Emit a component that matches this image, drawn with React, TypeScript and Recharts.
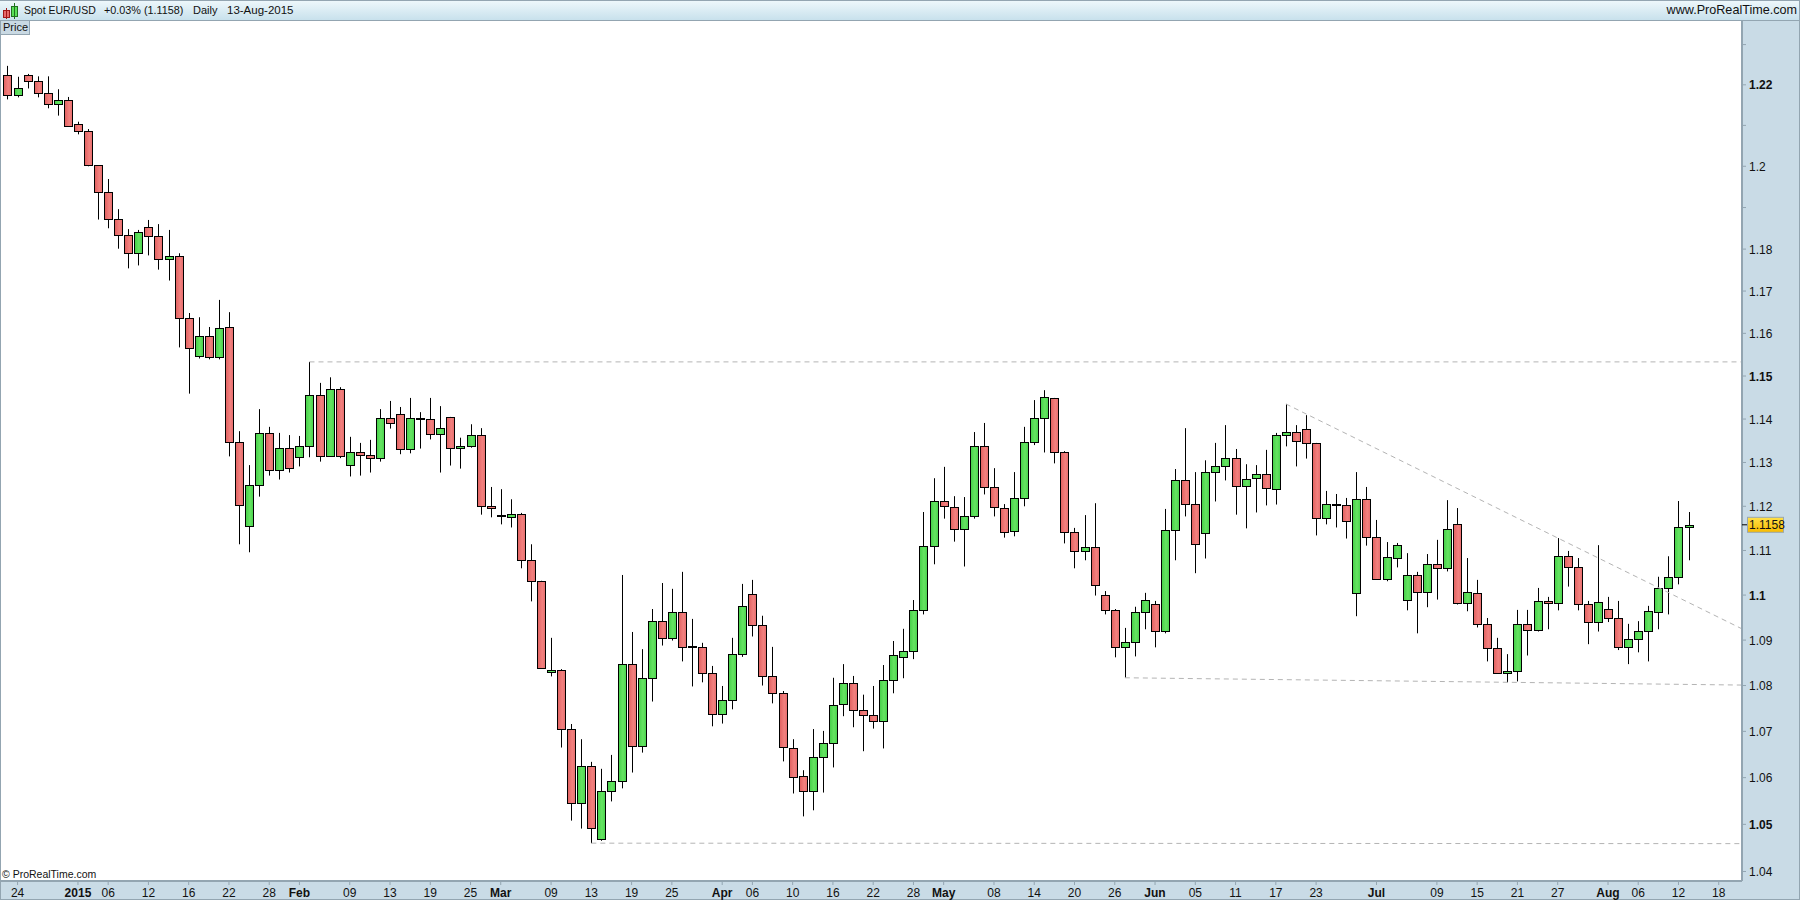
import { Bar, ComposedChart, ReferenceLine, XAxis, YAxis } from "recharts";

const FONT = "'Liberation Sans', Arial, sans-serif";
const PANEL = "#c9dbe6";
const FRAME = "#93a5b1";

// one entry per weekday, first one is 23 Dec 2014
const opens = [
  1.2224, 1.2174, 1.2224, 1.2209, 1.218, 1.2153, 1.2162, 1.2103, 1.2086, 1.2003,
  1.1937, 1.1872, 1.1834, 1.179, 1.1853, 1.1831, 1.1776, 1.1783, 1.1636, 1.1547,
  1.1593, 1.1544, 1.1615, 1.1347, 1.1155, 1.1248, 1.1368, 1.1283, 1.1333, 1.1312,
  1.1338, 1.1456, 1.1316, 1.147, 1.1294, 1.1324, 1.1317, 1.131, 1.1402, 1.1411,
  1.1331, 1.1401, 1.14, 1.1365, 1.1405, 1.1333, 1.1338, 1.1363, 1.12, 1.1177,
  1.1176, 1.1182, 1.1078, 1.1032, 1.083, 1.0834, 1.0705, 1.0546, 1.0625, 1.0469,
  1.0571, 1.0593, 1.0847, 1.0668, 1.0817, 1.0942, 1.0905, 1.0962, 1.0885, 1.0885,
  1.0828, 1.0738, 1.0768, 1.0869, 1.1002, 1.0934, 1.0821, 1.0784, 1.0664, 1.0603,
  1.0571, 1.0645, 1.0675, 1.0758, 1.0805, 1.0747, 1.0736, 1.0722, 1.0812, 1.0863,
  1.0876, 1.0967, 1.111, 1.1212, 1.1198, 1.1148, 1.1178, 1.1338, 1.1244, 1.1196,
  1.1144, 1.1219, 1.1347, 1.1402, 1.1449, 1.1324, 1.1142, 1.1099, 1.1108, 1.1,
  1.0967, 1.0885, 1.0896, 1.0962, 1.098, 1.092, 1.1146, 1.126, 1.1205, 1.1139,
  1.1278, 1.1292, 1.131, 1.1246, 1.1264, 1.1274, 1.1239, 1.1363, 1.137, 1.1377,
  1.1345, 1.1173, 1.1203, 1.1203, 1.1005, 1.1216, 1.113, 1.1036, 1.1083, 1.0989,
  1.1045, 1.1007, 1.107, 1.1061, 1.116, 1.0982, 1.1005, 1.0936, 1.0883, 1.0828,
  1.0832, 1.0936, 1.0922, 1.0987, 1.0982, 1.1087, 1.1063, 1.098, 1.094, 1.0969,
  1.0949, 1.0885, 1.0902, 1.092, 1.0962, 1.1016, 1.1041, 1.1153,
];
const closes = [
  1.2174, 1.2192, 1.2209, 1.218, 1.2153, 1.2162, 1.2098, 1.2086, 1.2003, 1.1937,
  1.1872, 1.1834, 1.179, 1.1841, 1.1831, 1.1776, 1.1783, 1.1636, 1.1565, 1.1593,
  1.1544, 1.1612, 1.1347, 1.1203, 1.1248, 1.1368, 1.1283, 1.1333, 1.1287, 1.1338,
  1.1456, 1.1314, 1.147, 1.1314, 1.1324, 1.1317, 1.131, 1.1402, 1.1391, 1.1331,
  1.1402, 1.1401, 1.1365, 1.1379, 1.1333, 1.1338, 1.1363, 1.12, 1.1195, 1.1177,
  1.1182, 1.1078, 1.1032, 1.084, 1.0834, 1.0705, 1.0546, 1.0625, 1.0492, 1.0571,
  1.0593, 1.0847, 1.0668, 1.0817, 1.0942, 1.0905, 1.0962, 1.0885, 1.0885, 1.0828,
  1.0738, 1.0768, 1.0869, 1.0976, 1.0934, 1.0821, 1.0784, 1.0666, 1.0601, 1.0571,
  1.0645, 1.0675, 1.0758, 1.0805, 1.0747, 1.0736, 1.0722, 1.0812, 1.0867, 1.0876,
  1.0967, 1.111, 1.1212, 1.12, 1.1148, 1.1178, 1.1338, 1.1244, 1.1198, 1.1142,
  1.1219, 1.1347, 1.1402, 1.1451, 1.1324, 1.1142, 1.1099, 1.1108, 1.1023, 1.0967,
  1.0885, 1.0896, 1.0962, 1.0989, 1.092, 1.1146, 1.126, 1.1205, 1.1114, 1.1278,
  1.1292, 1.131, 1.1246, 1.1262, 1.1274, 1.1241, 1.1363, 1.137, 1.1349, 1.1345,
  1.1173, 1.1205, 1.1203, 1.1167, 1.1216, 1.113, 1.1036, 1.1085, 1.1112, 1.1045,
  1.1007, 1.107, 1.1061, 1.1149, 1.0982, 1.1007, 1.0936, 1.0883, 1.0828, 1.0832,
  1.0936, 1.0922, 1.0987, 1.0982, 1.1087, 1.1063, 1.098, 1.094, 1.0985, 1.0949,
  1.0885, 1.0902, 1.092, 1.0965, 1.1016, 1.1041, 1.1153, 1.1158,
];
const highs = [
  1.2247, 1.222, 1.2227, 1.2221, 1.2221, 1.2189, 1.217, 1.2109, 1.2091, 1.2003,
  1.1969, 1.1896, 1.1848, 1.1846, 1.187, 1.186, 1.1846, 1.179, 1.1648, 1.1638,
  1.1615, 1.1679, 1.165, 1.1372, 1.1294, 1.1423, 1.1382, 1.1368, 1.1363, 1.1361,
  1.1533, 1.1484, 1.1497, 1.1474, 1.1359, 1.1345, 1.1352, 1.1423, 1.1442, 1.1428,
  1.1449, 1.1416, 1.1449, 1.143, 1.1405, 1.1357, 1.1388, 1.1379, 1.1244, 1.1239,
  1.1216, 1.1185, 1.1114, 1.1032, 1.0905, 1.0836, 1.0716, 1.0683, 1.0634, 1.0619,
  1.0649, 1.1045, 1.0918, 1.088, 1.0969, 1.1027, 1.1014, 1.1052, 1.0947, 1.0894,
  1.0843, 1.0799, 1.0905, 1.1025, 1.1034, 1.0954, 1.0885, 1.0788, 1.0683, 1.0616,
  1.0705, 1.0701, 1.0817, 1.0847, 1.0821, 1.078, 1.0799, 1.0845, 1.0898, 1.0925,
  1.0989, 1.1187, 1.1264, 1.129, 1.1223, 1.1221, 1.137, 1.1391, 1.1287, 1.1205,
  1.1278, 1.1382, 1.1444, 1.1467, 1.1449, 1.1326, 1.1151, 1.118, 1.1207, 1.1009,
  1.0969, 1.0927, 1.0974, 1.1005, 1.0987, 1.1194, 1.1285, 1.1379, 1.1278, 1.1305,
  1.1345, 1.1386, 1.1331, 1.1296, 1.1294, 1.1329, 1.1368, 1.1435, 1.1386, 1.1409,
  1.1345, 1.1235, 1.1228, 1.1219, 1.1278, 1.1244, 1.1169, 1.1119, 1.1117, 1.1094,
  1.1052, 1.1092, 1.1124, 1.1214, 1.1196, 1.1083, 1.1034, 1.0949, 1.0905, 1.0869,
  1.0967, 1.0967, 1.1016, 1.0996, 1.1128, 1.1099, 1.1083, 1.0987, 1.1112, 1.0996,
  1.0987, 1.0936, 1.0942, 1.0976, 1.1041, 1.1087, 1.1212, 1.1187,
];
const lows = [
  1.2164, 1.2169, 1.2191, 1.2169, 1.2142, 1.2124, 1.2097, 1.2078, 1.2, 1.1871,
  1.185, 1.1801, 1.1754, 1.1761, 1.1785, 1.1751, 1.1725, 1.1567, 1.1459, 1.1541,
  1.1539, 1.1539, 1.1314, 1.1114, 1.1096, 1.1222, 1.127, 1.1261, 1.1277, 1.1291,
  1.1312, 1.1302, 1.1313, 1.131, 1.1268, 1.127, 1.1277, 1.1302, 1.1378, 1.1319,
  1.1321, 1.1332, 1.1353, 1.1277, 1.1293, 1.1286, 1.1334, 1.1181, 1.1175, 1.1159,
  1.1152, 1.106, 1.0986, 1.0838, 1.082, 1.0665, 1.0508, 1.0491, 1.046, 1.0465,
  1.0549, 1.0577, 1.0611, 1.0654, 1.0765, 1.0888, 1.0899, 1.0853, 1.0798, 1.0807,
  1.0711, 1.0717, 1.0748, 1.0863, 1.0908, 1.08, 1.0761, 1.0635, 1.0566, 1.0517,
  1.053, 1.0568, 1.0622, 1.0733, 1.0709, 1.0657, 1.0706, 1.0663, 1.0783, 1.0816,
  1.0858, 1.0957, 1.1069, 1.1172, 1.112, 1.1064, 1.1172, 1.1227, 1.1177, 1.1129,
  1.1132, 1.12, 1.134, 1.1323, 1.1298, 1.1116, 1.106, 1.1078, 1.0999, 1.0957,
  1.0862, 1.0817, 1.0864, 1.0924, 1.0884, 1.0915, 1.1078, 1.1177, 1.1049, 1.1082,
  1.1211, 1.1259, 1.1181, 1.115, 1.1186, 1.1202, 1.1204, 1.1337, 1.1291, 1.1309,
  1.1134, 1.1159, 1.1152, 1.1127, 1.0953, 1.1111, 1.1034, 1.1031, 1.1062, 1.0966,
  1.0915, 1.0973, 1.099, 1.1053, 1.0979, 1.0964, 1.0928, 1.0853, 1.0828, 1.0807,
  1.0809, 1.0866, 1.0919, 1.0924, 1.0966, 1.1019, 1.0966, 1.0891, 1.0919, 1.094,
  1.0878, 1.0847, 1.0873, 1.0853, 1.0924, 1.0957, 1.1024, 1.1078,
];

const dateTicks = [
  1, 7, 10, 14, 18, 22, 26, 29, 34, 38, 42, 46, 49, 54, 58, 62, 66, 71, 74, 78, 82, 86, 90,
  93, 98, 102, 106, 110, 114, 118, 122, 126, 130, 136, 142, 146, 150, 154, 159, 162, 166, 170,
];
const dateLabels = [
  "24", "2015", "06", "12", "16", "22", "28", "Feb", "09", "13", "19", "25", "Mar", "09", "13",
  "19", "25", "Apr", "06", "10", "16", "22", "28", "May", "08", "14", "20", "26", "Jun", "05",
  "11", "17", "23", "Jul", "09", "15", "21", "27", "Aug", "06", "12", "18",
];
const boldDateLabels = ["2015", "Feb", "Mar", "Apr", "May", "Jun", "Jul", "Aug"];

const lastPrice = 1.1158;
const priceTicks = [
  1.04, 1.05, 1.06, 1.07, 1.08, 1.09, 1.1, 1.11, 1.12, 1.13, 1.14, 1.15, 1.16, 1.17, 1.18, 1.19,
  1.2, 1.21, 1.22, 1.23,
];
const unlabelledPrices = [1.19, 1.21, 1.23];
const boldPrices = [1.05, 1.1, 1.15, 1.22];

// trend lines: [start candle, start price, end candle, end price]
const trendLines = [
  [30, 1.1533, 172.3, 1.1533],
  [58, 1.046, 172.3, 1.0459],
  [127, 1.1435, 172.3, 1.0925],
  [111, 1.0817, 172.3, 1.0801],
];

const rows = opens.map((open, i) => ({
  idx: i,
  open,
  close: closes[i],
  high: highs[i],
  low: lows[i],
}));

const X_DOMAIN = [-0.6457, 172.31];
const Y_DOMAIN = [1.038, 1.2359];

function Wick({ x, y, height }: any) {
  return <rect x={Math.floor(x + 0.5)} y={y} width={1} height={height} fill="#000" />;
}

function Body({ x, y, width, height, payload }: any) {
  const left = Math.floor(x + width / 2) - 3.5;
  const top = Math.round(y) + 0.5;
  const h = Math.round(height);
  if (payload.open === payload.close) {
    return <rect x={left - 0.5} y={Math.round(y) - 1} width={9} height={2} fill="#000" />;
  }
  const fill = payload.close > payload.open ? "url(#upBody)" : "url(#downBody)";
  return <rect x={left} y={top} width={8} height={h} fill={fill} stroke="#000" strokeWidth={1} />;
}

function DateTick({ x, y, payload }: any) {
  const label = dateLabels[dateTicks.indexOf(payload.value)];
  return (
    <g>
      <line x1={x} x2={x} y1={y} y2={y + 4} stroke={FRAME} />
      <text
        x={x}
        y={y + 16}
        textAnchor="middle"
        fontFamily={FONT}
        fontSize={12}
        fontWeight={boldDateLabels.includes(label) ? 700 : 400}
        fill="#111"
      >
        {label}
      </text>
    </g>
  );
}

function PriceTick({ x, y, payload }: any) {
  const value = payload.value;
  if (value === lastPrice) {
    return (
      <g>
        <line x1={x} x2={x + 5} y1={y} y2={y} stroke="#000" />
        <rect x={x + 5.5} y={y - 7.5} width={36} height={15} fill="url(#lastBox)" stroke="#9aa7ae" />
        <text x={x + 7} y={y + 4.5} fontFamily={FONT} fontSize={12} fill="#111">
          {value}
        </text>
      </g>
    );
  }
  return (
    <g>
      <line x1={x} x2={x + 4} y1={y} y2={y} stroke={FRAME} />
      {!unlabelledPrices.includes(value) && (
        <text
          x={x + 7}
          y={y + 4.5}
          fontFamily={FONT}
          fontSize={12}
          fontWeight={boldPrices.includes(value) ? 700 : 400}
          fill="#111"
        >
          {value}
        </text>
      )}
    </g>
  );
}

function HeaderText({ left, right, size, children }: any) {
  return (
    <span
      style={{
        position: "absolute",
        top: 1,
        left,
        right,
        fontSize: size,
        lineHeight: "16px",
        color: "#111",
        whiteSpace: "nowrap",
      }}
    >
      {children}
    </span>
  );
}

export default function App() {
  return (
    <div
      style={{
        position: "absolute",
        left: 0,
        top: 0,
        width: 1800,
        height: 900,
        overflow: "hidden",
        background: PANEL,
        fontFamily: FONT,
      }}
    >
      <div style={{ position: "absolute", left: 1, top: 21, width: 1741, height: 860, background: "#fff" }} />
      <div
        style={{
          position: "absolute",
          left: 0,
          top: 0,
          width: 1800,
          height: 21,
          background: "linear-gradient(#edf7fb, #c8e1ec)",
          borderTop: `1px solid ${FRAME}`,
          borderBottom: `1px solid ${FRAME}`,
          boxSizing: "border-box",
        }}
      >
        <svg width={20} height={19} style={{ position: "absolute", left: 2, top: 0 }}>
          <rect x={1.5} y={9.5} width={6} height={7} fill="#e86a6a" stroke="#a01818" />
          <rect x={9.5} y={5.5} width={6} height={10} fill="#58e058" stroke="#207020" />
          <line x1={4.5} x2={4.5} y1={7} y2={18} stroke="#a01818" />
          <line x1={12.5} x2={12.5} y1={2} y2={18} stroke="#207020" />
        </svg>
        <HeaderText left={24} size={10.5}>Spot EUR/USD</HeaderText>
        <HeaderText left={104} size={10.8}>+0.03% (1.1158)</HeaderText>
        <HeaderText left={193} size={11}>Daily</HeaderText>
        <HeaderText left={227} size={11.5}>13-Aug-2015</HeaderText>
        <HeaderText right={3} size={12.6}>www.ProRealTime.com</HeaderText>
      </div>
      <div
        style={{
          position: "absolute",
          left: 1,
          top: 21,
          width: 29,
          height: 14,
          background: "#c9d9e3",
          borderRight: `1px solid ${FRAME}`,
          borderBottom: `1px solid ${FRAME}`,
          boxSizing: "border-box",
          fontSize: 11,
          lineHeight: "13px",
          paddingLeft: 2,
          color: "#111",
        }}
      >
        Price
      </div>
      <div
        style={{
          position: "absolute",
          left: 2,
          top: 867,
          fontSize: 10.5,
          lineHeight: "14px",
          color: "#111",
        }}
      >
        © ProRealTime.com
      </div>
      <div style={{ position: "absolute", left: 0, top: 20, width: 1, height: 880, background: FRAME }} />
      <div style={{ position: "absolute", left: 0, top: 899, width: 1800, height: 1, background: FRAME }} />
      <div style={{ position: "absolute", left: 1799, top: 0, width: 1, height: 900, background: FRAME }} />

      <div style={{ position: "absolute", left: 0, top: 0 }}>
        <ComposedChart
          width={1800}
          height={900}
          data={rows}
          margin={{ top: 21, right: 0, bottom: 0, left: 1 }}
        >
          <defs>
            <linearGradient id="upBody" x1="0" y1="0" x2="1" y2="0">
              <stop offset="0%" stopColor="#44cf48" />
              <stop offset="55%" stopColor="#66e462" />
              <stop offset="100%" stopColor="#48d24c" />
            </linearGradient>
            <linearGradient id="downBody" x1="0" y1="0" x2="1" y2="0">
              <stop offset="0%" stopColor="#e0605f" />
              <stop offset="60%" stopColor="#f2817f" />
              <stop offset="100%" stopColor="#e66c6c" />
            </linearGradient>
            <linearGradient id="lastBox" x1="0" y1="0" x2="0" y2="1">
              <stop offset="0%" stopColor="#ffe14a" />
              <stop offset="100%" stopColor="#f8bb00" />
            </linearGradient>
          </defs>

          <XAxis
            xAxisId="time"
            type="number"
            dataKey="idx"
            domain={X_DOMAIN}
            allowDataOverflow
            ticks={dateTicks}
            interval={0}
            height={19}
            tickSize={0}
            tickMargin={0}
            tickLine={false}
            axisLine={{ stroke: FRAME, strokeWidth: 2 }}
            tick={<DateTick />}
          />
          <XAxis xAxisId="wick" type="number" dataKey="idx" domain={X_DOMAIN} allowDataOverflow hide />
          <YAxis
            yAxisId="price"
            orientation="right"
            scale="log"
            domain={Y_DOMAIN}
            allowDataOverflow
            ticks={[...priceTicks, lastPrice]}
            interval={0}
            width={58}
            tickSize={0}
            tickMargin={0}
            tickLine={false}
            axisLine={{ stroke: FRAME, strokeWidth: 2 }}
            tick={<PriceTick />}
          />

          {trendLines.map(([x1, y1, x2, y2]) => (
            <ReferenceLine
              key={`${x1}-${y1}`}
              xAxisId="time"
              yAxisId="price"
              segment={[
                { x: x1, y: y1 },
                { x: x2, y: y2 },
              ]}
              stroke="#b4b4b4"
              strokeDasharray="5 4"
            />
          ))}

          <Bar
            xAxisId="wick"
            yAxisId="price"
            dataKey={(row: any) => [row.low, row.high]}
            barSize={1}
            shape={<Wick />}
            isAnimationActive={false}
          />
          <Bar
            xAxisId="time"
            yAxisId="price"
            dataKey={(row: any) => [Math.min(row.open, row.close), Math.max(row.open, row.close)]}
            barSize={9}
            shape={<Body />}
            isAnimationActive={false}
          />
        </ComposedChart>
      </div>
    </div>
  );
}
